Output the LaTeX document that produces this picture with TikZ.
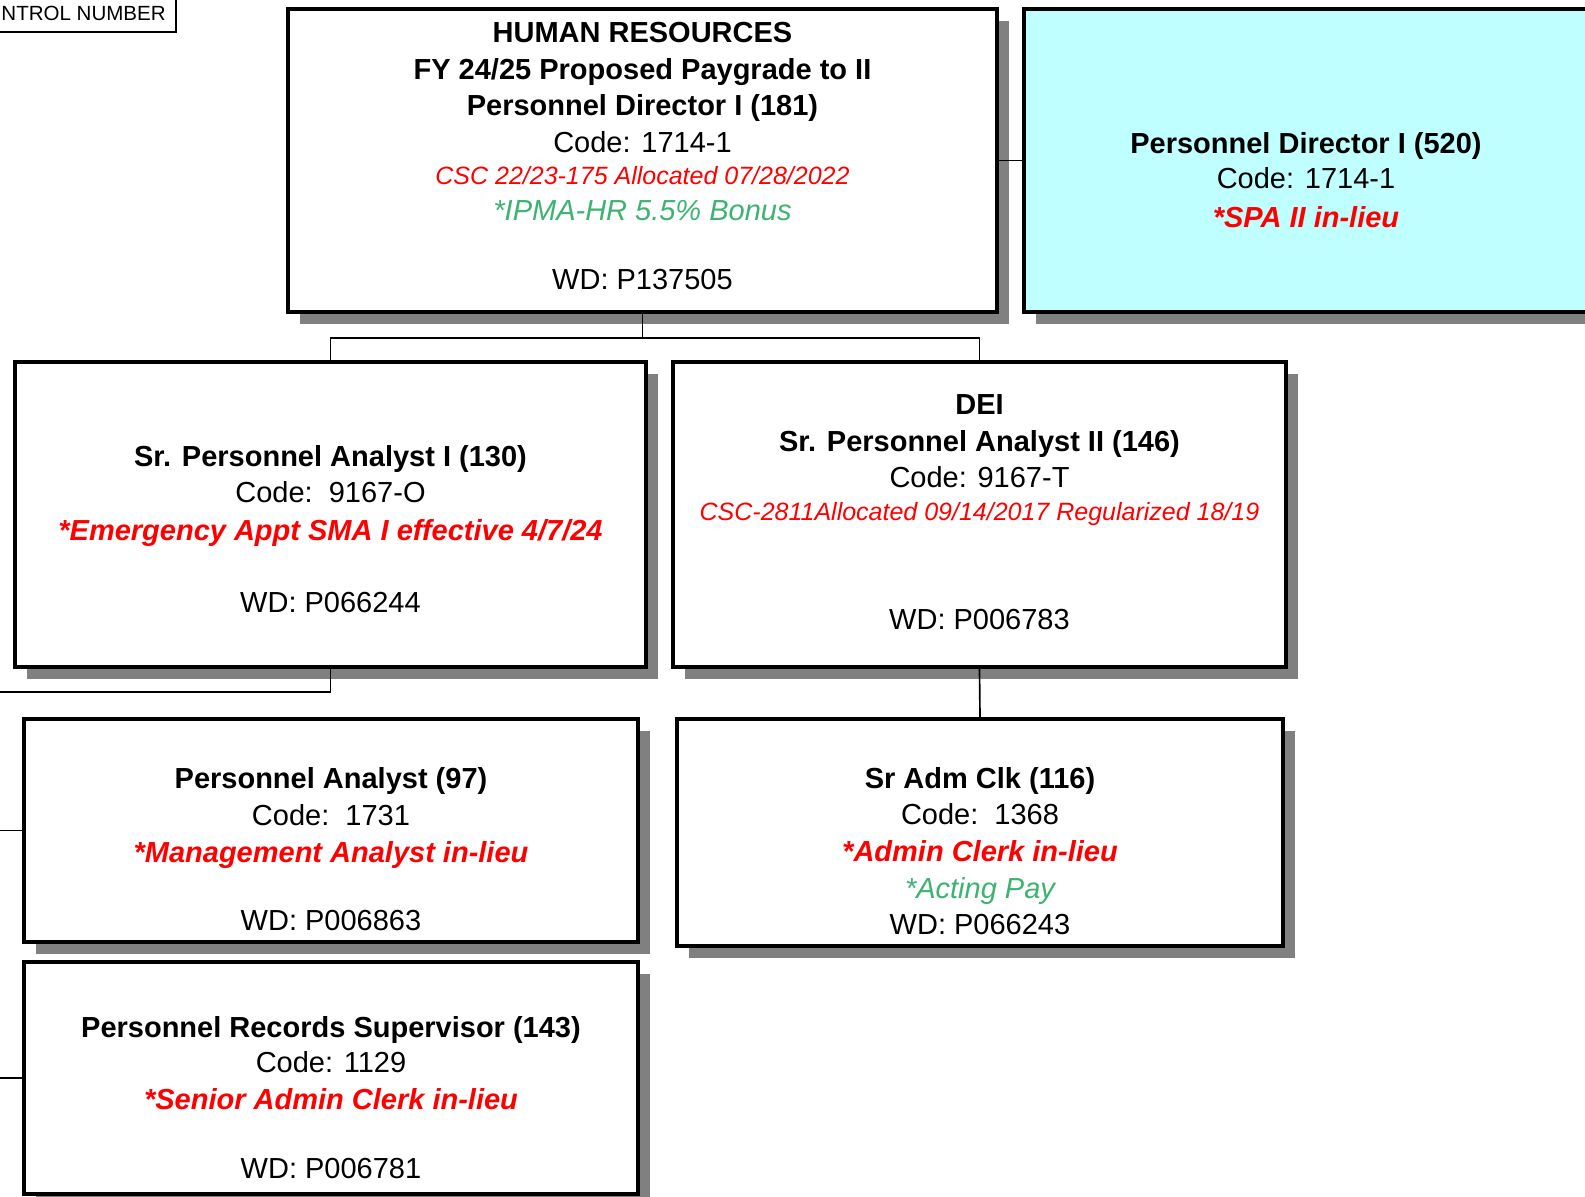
\documentclass[tikz,border=0pt]{standalone}
\usepackage{fontspec}
\setmainfont{Liberation Sans}
\usetikzlibrary{fit,shadows}

\definecolor{redc}{RGB}{255,0,0}
\definecolor{greenc}{RGB}{60,179,113}
\definecolor{cyanc}{RGB}{192,255,255}
\definecolor{shadowc}{RGB}{128,128,128}

\newcommand\bigsz{\fontsize{21.75pt}{26pt}\selectfont}
\newcommand\smallsz{\fontsize{18.75pt}{22pt}\selectfont}
\newcommand\tinysz{\fontsize{15.4pt}{18pt}\selectfont}

\tikzset{
  box/.style={draw=black, line width=3pt, fill=white, inner sep=0pt,
    drop shadow={shadow xshift=9pt, shadow yshift=-9pt, fill=shadowc, opacity=1}},
  conn/.style={draw=black, line width=1.25pt},
  ln/.style={anchor=base, inner sep=0pt, font=\bigsz},
  hd/.style={ln, font=\bigsz\bfseries},
  note/.style={ln, font=\smallsz\itshape, text=redc},
  flag/.style={ln, font=\bigsz\bfseries\itshape, text=redc},
  perk/.style={ln, font=\bigsz\itshape, text=greenc},
}

\begin{document}
\begin{tikzpicture}[x=0.75pt, y=-0.75pt]
\path[use as bounding box, fill=white] (0,0) rectangle (1585,1196);

% control number tag
\node[draw=black, line width=1.5pt, fill=white, inner sep=0pt, fit={(-200,-10) (176,32)}] (ctl) {};
\node[anchor=base east, inner sep=0pt, font=\tinysz] (ctltxt) at (166,20) {NTROL NUMBER};

% boxes
\node[box, fit={(288,9) (997,312)}] (T) {};
\node[box, fill=cyanc, fit={(1024,9) (1589,312)}] (C) {};
\node[box, fit={(15,362) (646,667)}] (S1) {};
\node[box, fit={(673,362) (1286,667)}] (D) {};
\node[box, fit={(24,719) (638,942)}] (P) {};
\node[box, fit={(677,719) (1283,946)}] (A) {};
\node[box, fit={(24,962) (638,1194)}] (R) {};

% director
\node[hd] (t1) at (642.5,42) {HUMAN RESOURCES};
\node[hd] (t2) at (642.5,79) {FY 24/25 Proposed Paygrade to II};
\node[hd] (t3) at (642.5,115.5) {Personnel Director I (181)};
\node[ln] (t4) at (642.5,152) {Code: 1714-1};
\node[note] (t5) at (642.5,184.5) {CSC 22/23-175 Allocated 07/28/2022};
\node[perk] (t6) at (642.5,220) {*IPMA-HR 5.5\% Bonus};
\node[ln] (t7) at (642.5,289) {WD: P137505};

% second director
\node[hd] (c1) at (1306,153) {Personnel Director I (520)};
\node[ln] (c2) at (1306,188) {Code: 1714-1};
\node[flag] (c3) at (1306,227) {*SPA II in-lieu};

% senior analyst I
\node[hd] (s1) at (330.5,466) {Sr. Personnel Analyst I (130)};
\node[ln] (s2) at (330.5,502) {Code:\ \ 9167-O};
\node[flag] (s3) at (330.5,540) {*Emergency Appt SMA I effective 4/7/24};
\node[ln] (s4) at (330.5,612) {WD: P066244};

% DEI analyst
\node[hd] (d1) at (979.5,414) {DEI};
\node[hd] (d2) at (979.5,451) {Sr. Personnel Analyst II (146)};
\node[ln] (d3) at (979.5,487) {Code: 9167-T};
\node[note] (d4) at (979.5,520) {CSC-2811Allocated 09/14/2017 Regularized 18/19};
\node[ln] (d5) at (979.5,629) {WD: P006783};

% analyst
\node[hd] (p1) at (331,788) {Personnel Analyst (97)};
\node[ln] (p2) at (331,825) {Code:\ \ 1731};
\node[flag] (p3) at (331,862) {*Management Analyst in-lieu};
\node[ln] (p4) at (331,930) {WD: P006863};

% clerk
\node[hd] (a1) at (980,788) {Sr Adm Clk (116)};
\node[ln] (a2) at (980,824) {Code:\ \ 1368};
\node[flag] (a3) at (980,861) {*Admin Clerk in-lieu};
\node[perk] (a4) at (980,898) {*Acting Pay};
\node[ln] (a5) at (980,934) {WD: P066243};

% records supervisor
\node[hd] (r1) at (331,1037) {Personnel Records Supervisor (143)};
\node[ln] (r2) at (331,1072) {Code: 1129};
\node[flag] (r3) at (331,1109) {*Senior Admin Clerk in-lieu};
\node[ln] (r4) at (331,1178) {WD: P006781};

% connectors
\coordinate (bus) at (642.5,338);
\coordinate (spine) at (-12,692);
\draw[conn] (T.south) -- (T.south |- bus);
\draw[conn] (S1.north) |- (D.north |- bus) -- (D.north);
\draw[conn] (T.east) -- (C.west);
\draw[conn] (S1.south) |- (spine) |- (P.west);
\draw[conn] (spine) |- (R.west);
\draw[conn] (D.south) -- (A.north);
\end{tikzpicture}
\end{document}
